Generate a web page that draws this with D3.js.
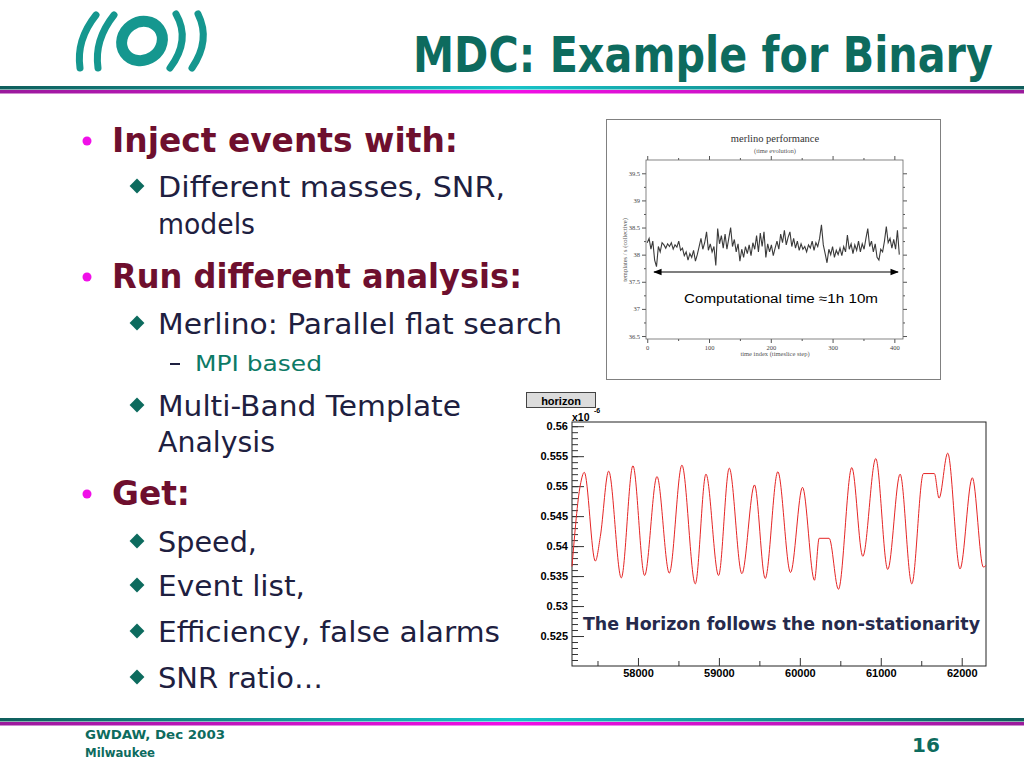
<!DOCTYPE html>
<html>
<head>
<meta charset="utf-8">
<script src="https://cdn.jsdelivr.net/npm/d3@7"></script>
<style>
body { margin: 0; background: #fff; }
</style>
</head>
<body>
<div class="slide"></div>
<script>
// slide text
var title = "MDC: Example for Binary";
var bulletText = [
  "Inject events with:",
  "Different masses, SNR,",
  "models",
  "Run different analysis:",
  "Merlino: Parallel flat search",
  "MPI based",
  "Multi-Band Template",
  "Analysis",
  "Get:",
  "Speed,",
  "Event list,",
  "Efficiency, false alarms",
  "SNR ratio\u2026"
];
var bulletKind = ["h", "s", "c", "h", "s", "d", "s", "c", "h", "s", "s", "s", "s"];
var footerLeft = ["GWDAW, Dec 2003", "Milwaukee"];
var pageNumber = "16";

// merlino performance (templates / s vs time index)
var merlinoStep = 3;
var merlinoValues = [
  38.22, 38.30, 38.10, 38.25, 37.90, 37.78, 38.15, 38.05, 38.22, 38.18,
  38.12, 38.20, 38.15, 38.22, 38.10, 38.18, 38.14, 38.25, 38.08, 38.12,
  37.98, 38.05, 37.90, 38.02, 37.95, 38.08, 37.88, 38.00, 38.15, 38.30,
  38.10, 38.22, 38.42, 38.08, 38.20, 38.05, 38.15, 37.80, 38.48, 38.20,
  38.35, 38.12, 38.38, 38.10, 38.30, 38.50, 38.15, 38.28, 38.05, 38.20,
  37.88, 38.10, 37.95, 38.15, 38.02, 38.18, 37.98, 38.22, 38.10, 38.35,
  38.05, 38.40, 38.15, 38.42, 37.95, 38.20, 38.05, 38.18, 37.98, 38.12,
  38.25, 38.10, 38.38, 38.22, 38.45, 38.18, 38.32, 38.42, 38.15, 38.30,
  38.12, 38.25, 38.08, 38.20, 38.10, 38.15, 38.05, 38.18, 38.12, 38.25,
  38.08, 38.22, 38.15, 38.30, 38.55, 38.18, 38.02, 37.85, 38.10, 38.00,
  38.15, 37.95, 38.08, 38.00, 38.12, 37.98, 38.15, 38.05, 38.36, 38.10,
  38.20, 38.02, 38.18, 38.08, 38.25, 38.05, 38.20, 38.10, 38.30, 38.48,
  38.15, 38.25, 38.05, 38.20, 37.95, 37.90, 38.10, 38.05, 38.25, 38.52,
  38.22, 38.30, 38.12, 38.28, 38.10, 38.45, 38.00
];
var merlinoTicksY = [36.5, 37, 37.5, 38, 38.5, 39, 39.5];
var merlinoTicksX = [0, 100, 200, 300, 400];
var arrowSpan = [11, 406];
var arrowLevel = 37.68;

// horizon (x10^-6) vs time
var horizonX = [
  57185, 57288, 57337, 57473, 57535, 57638, 57794, 57938, 58082, 58235,
  58387, 58543, 58708, 58840, 58996, 59128, 59284, 59440, 59572, 59728,
  59885, 60033, 60181, 60239, 60362, 60477, 60642, 60778, 60938, 61086,
  61239, 61383, 61527, 61662, 61720, 61827, 61979, 62131, 62267, 62300
];
var horizonY = [
  0.5366, 0.5502, 0.5523, 0.5375, 0.5416, 0.5525, 0.5347, 0.5534, 0.5351, 0.5516,
  0.5355, 0.5535, 0.5337, 0.5520, 0.5351, 0.5530, 0.5354, 0.5502, 0.5346, 0.5524,
  0.5356, 0.5498, 0.5343, 0.5413, 0.5413, 0.5328, 0.5531, 0.5383, 0.5546, 0.5361,
  0.5520, 0.5337, 0.5521, 0.5521, 0.5480, 0.5555, 0.5362, 0.5514, 0.5365, 0.5368
];
var horizonTicksY = [0.525, 0.53, 0.535, 0.54, 0.545, 0.55, 0.555, 0.56];
var horizonTicksX = [58000, 59000, 60000, 61000, 62000];

var slideFont = "'DejaVu Sans', 'Noto Sans', sans-serif";
var teal = "#0d6b5e";

var svg = d3.select(".slide")
  .append("svg")
  .attr("width", 1024)
  .attr("height", 768);

svg.append("rect").attr("width", 1024).attr("height", 768).attr("fill", "#fff");

var defs = svg.append("defs");
function barGradient(id, edge, mid) {
  var g = defs.append("linearGradient").attr("id", id).attr("x1", "0%").attr("x2", "100%");
  g.append("stop").attr("offset", "0%").attr("stop-color", edge);
  g.append("stop").attr("offset", "50%").attr("stop-color", mid);
  g.append("stop").attr("offset", "100%").attr("stop-color", edge);
}
barGradient("tealBar", "#0f5e5c", "#17c3c8");
barGradient("pinkBar", "#9a1a9c", "#f20ee6");

var arrowHead = defs.append("marker")
  .attr("id", "arrowHead")
  .attr("viewBox", "0 0 10 10")
  .attr("refX", 9).attr("refY", 5)
  .attr("markerWidth", 7).attr("markerHeight", 7)
  .attr("orient", "auto-start-reverse");
arrowHead.append("path").attr("d", "M0,1 L10,5 L0,9 Z").attr("fill", "#000");

// squeeze a text horizontally so it spans `width` px from (x, y)
function fitText(sel, x, y, width) {
  var w = sel.node().getComputedTextLength();
  sel.attr("x", 0).attr("y", 0)
    .attr("transform", "translate(" + x + "," + y + ") scale(" + (width / w) + ",1)");
}

// ---- logo
var logo = svg.append("g")
  .attr("fill", "none")
  .attr("stroke", "#15978f")
  .attr("stroke-linecap", "round");
logo.append("path").attr("d", "M96,15 Q76,40 80,68").attr("stroke-width", 7);
logo.append("path").attr("d", "M114,15 Q94,40 98,68").attr("stroke-width", 7);
logo.append("ellipse")
  .attr("cx", 142).attr("cy", 41).attr("rx", 21).attr("ry", 19)
  .attr("transform", "rotate(-35,142,41)")
  .attr("stroke-width", 11);
logo.append("path").attr("d", "M176,14 Q191,40 170,68").attr("stroke-width", 7);
logo.append("path").attr("d", "M198,14 Q211,40 192,68").attr("stroke-width", 7);

// ---- title and bars
var titleText = svg.append("text")
  .attr("font-family", slideFont)
  .attr("font-weight", "bold")
  .attr("font-size", 50)
  .attr("fill", teal)
  .text(title);
fitText(titleText, 413, 72, 580);

[[86, 718], [90, 722]].forEach(function (pair, i) {
  pair.forEach(function (y) {
    svg.append("rect")
      .attr("x", 0).attr("y", y).attr("width", 1024).attr("height", 3.5)
      .attr("fill", i === 0 ? "url(#tealBar)" : "url(#pinkBar)");
  });
});

// ---- bullets
var bulletBase = [152, 197, 234, 288, 334, 371, 416, 452, 505, 552, 596, 642, 688];
var bulletWidth = [346, 347, 97, 410, 404, 127, 303, 117, 78, 99, 147, 342, 165];

var bullets = svg.append("g").selectAll("g")
  .data(bulletText)
  .join("g");

bullets.append("text")
  .attr("x", function (d, i) {
    var k = bulletKind[i];
    return k === "h" ? 112 : (k === "d" ? 195 : 158);
  })
  .attr("y", function (d, i) { return bulletBase[i]; })
  .attr("font-family", slideFont)
  .attr("font-weight", function (d, i) { return bulletKind[i] === "h" ? "bold" : "normal"; })
  .attr("font-size", function (d, i) {
    var k = bulletKind[i];
    return k === "h" ? 33 : (k === "d" ? 22 : 28);
  })
  .attr("fill", function (d, i) {
    var k = bulletKind[i];
    return k === "h" ? "#6e0f2e" : (k === "d" ? "#0d7a66" : "#1e2040");
  })
  .attr("textLength", function (d, i) { return bulletWidth[i]; })
  .attr("lengthAdjust", "spacingAndGlyphs")
  .text(function (d) { return d; });

bullets.each(function (d, i) {
  var g = d3.select(this);
  var k = bulletKind[i];
  var y = bulletBase[i];
  if (k === "h") {
    g.append("circle").attr("cx", 87).attr("cy", y - 11).attr("r", 4.5).attr("fill", "#f010e8");
  } else if (k === "s") {
    g.append("path")
      .attr("d", d3.symbol(d3.symbolDiamond2, 140)())
      .attr("transform", "translate(137," + (y - 11) + ")")
      .attr("fill", "#0d6b5e");
  } else if (k === "d") {
    g.append("rect").attr("x", 170).attr("y", y - 8).attr("width", 10).attr("height", 2).attr("fill", "#1e2040");
  }
});

// ---- footer
footerLeft.forEach(function (t, i) {
  svg.append("text")
    .attr("x", 85).attr("y", 739 + i * 18)
    .attr("font-family", slideFont)
    .attr("font-weight", "bold")
    .attr("font-size", 12)
    .attr("fill", teal)
    .attr("textLength", i === 0 ? 140 : 70)
    .attr("lengthAdjust", "spacingAndGlyphs")
    .text(t);
});
svg.append("text")
  .attr("x", 926).attr("y", 752)
  .attr("text-anchor", "middle")
  .attr("font-family", slideFont)
  .attr("font-weight", "bold")
  .attr("font-size", 20)
  .attr("fill", teal)
  .text(pageNumber);

// ---- merlino performance plot
var serif = "'Liberation Serif', 'DejaVu Serif', serif";
svg.append("rect")
  .attr("x", 606.5).attr("y", 119.5).attr("width", 334).attr("height", 260)
  .attr("fill", "#fff").attr("stroke", "#808080");

var mx = d3.scaleLinear().domain([-2, 414]).range([646, 903]);
var my = d3.scaleLinear().domain([36.445, 39.745]).range([339, 160]);

var mPlot = svg.append("g").attr("color", "#555");

mPlot.append("g").attr("transform", "translate(646,0)")
  .call(d3.axisLeft(my).tickValues(merlinoTicksY).tickSize(4).tickPadding(2).tickFormat(d3.format("~g")));
mPlot.append("g").attr("transform", "translate(646,0)")
  .call(d3.axisLeft(my).tickValues(d3.range(36.75, 39.7, 0.5)).tickSize(2).tickFormat(""));
mPlot.append("g").attr("transform", "translate(903,0)")
  .call(d3.axisRight(my).tickValues(merlinoTicksY).tickSize(4).tickFormat(""));
mPlot.append("g").attr("transform", "translate(903,0)")
  .call(d3.axisRight(my).tickValues(d3.range(36.75, 39.7, 0.5)).tickSize(2).tickFormat(""));
mPlot.append("g").attr("transform", "translate(0,339)")
  .call(d3.axisBottom(mx).tickValues(merlinoTicksX).tickSize(4).tickPadding(2).tickFormat(d3.format("d")));
mPlot.append("g").attr("transform", "translate(0,339)")
  .call(d3.axisBottom(mx).tickValues([50, 150, 250, 350]).tickSize(2).tickFormat(""));
mPlot.append("g").attr("transform", "translate(0,160)")
  .call(d3.axisTop(mx).tickValues(merlinoTicksX).tickSize(4).tickFormat(""));
mPlot.append("g").attr("transform", "translate(0,160)")
  .call(d3.axisTop(mx).tickValues([50, 150, 250, 350]).tickSize(2).tickFormat(""));
mPlot.selectAll("text").attr("font-family", serif).attr("font-size", 6.5).attr("fill", "#444");
mPlot.selectAll(".domain").remove();
mPlot.append("rect")
  .attr("x", 646).attr("y", 160).attr("width", 257).attr("height", 179)
  .attr("fill", "none").attr("stroke", "#666").attr("stroke-width", 0.8);

var merlinoLine = d3.line()
  .x(function (d, i) { return mx(i * merlinoStep); })
  .y(function (d) { return my(d); });
mPlot.append("path")
  .datum(merlinoValues)
  .attr("d", merlinoLine)
  .attr("fill", "none")
  .attr("stroke", "#3a3a3a")
  .attr("stroke-width", 1.1);

mPlot.append("text")
  .attr("x", 775).attr("y", 142).attr("text-anchor", "middle")
  .attr("font-family", serif).attr("font-size", 10.5).attr("fill", "#333")
  .text("merlino performance");
mPlot.append("text")
  .attr("x", 775).attr("y", 153).attr("text-anchor", "middle")
  .attr("font-family", serif).attr("font-size", 6.5).attr("fill", "#555")
  .text("(time evolution)");
mPlot.append("text")
  .attr("x", 775).attr("y", 356).attr("text-anchor", "middle")
  .attr("font-family", serif).attr("font-size", 6.5).attr("fill", "#555")
  .text("time index (timeslice step)");
mPlot.append("text")
  .attr("transform", "translate(627,250) rotate(-90)")
  .attr("text-anchor", "middle")
  .attr("font-family", serif).attr("font-size", 6.5).attr("fill", "#555")
  .text("templates / s  (collective)");

mPlot.append("line")
  .attr("x1", mx(arrowSpan[0])).attr("x2", mx(arrowSpan[1]))
  .attr("y1", my(arrowLevel)).attr("y2", my(arrowLevel))
  .attr("stroke", "#000").attr("stroke-width", 1.2)
  .attr("marker-start", "url(#arrowHead)")
  .attr("marker-end", "url(#arrowHead)");
mPlot.append("text")
  .attr("x", 684).attr("y", 303)
  .attr("font-family", "'Liberation Sans', Arial, sans-serif")
  .attr("font-size", 12.5).attr("fill", "#000")
  .attr("textLength", 194).attr("lengthAdjust", "spacingAndGlyphs")
  .text("Computational time \u22481h 10m");

// ---- horizon plot
var sansBold = "'Liberation Sans', Arial, sans-serif";
var hx = d3.scaleLinear().domain([57185, 62300]).range([572, 986]);
var hy = d3.scaleLinear().domain([0.52, 0.5607]).range([666, 422]);

var hPlot = svg.append("g").attr("color", "#000");

hPlot.append("rect")
  .attr("x", 526.5).attr("y", 392.5).attr("width", 69).attr("height", 15)
  .attr("fill", "#dcdcdc").attr("stroke", "#444");
hPlot.append("text")
  .attr("x", 561).attr("y", 404.5).attr("text-anchor", "middle")
  .attr("font-family", sansBold).attr("font-weight", "bold").attr("font-size", 11)
  .text("horizon");

hPlot.append("rect")
  .attr("x", 572).attr("y", 422).attr("width", 414).attr("height", 244)
  .attr("fill", "#fff").attr("stroke", "#222").attr("stroke-width", 1);

hPlot.append("g").attr("transform", "translate(572,0)")
  .call(d3.axisLeft(hy).tickValues(horizonTicksY).tickSize(-12).tickPadding(4).tickFormat(d3.format(".3~f")));
hPlot.append("g").attr("transform", "translate(572,0)")
  .call(d3.axisLeft(hy).tickValues(d3.range(0.521, 0.5605, 0.001)).tickSize(-6).tickFormat(""));
hPlot.append("g").attr("transform", "translate(0,666)")
  .call(d3.axisBottom(hx).tickValues(horizonTicksX).tickSize(-8).tickPadding(3).tickFormat(d3.format("d")));
hPlot.append("g").attr("transform", "translate(0,666)")
  .call(d3.axisBottom(hx).tickValues([57500, 58500, 59500, 60500, 61500]).tickSize(-5).tickFormat(""));
hPlot.selectAll(".domain").remove();
hPlot.selectAll(".tick line").attr("stroke", "#333");
hPlot.selectAll(".tick text")
  .attr("font-family", sansBold).attr("font-weight", "bold").attr("font-size", 11).attr("fill", "#000");

hPlot.append("text")
  .attr("x", 572).attr("y", 421)
  .attr("font-family", sansBold).attr("font-weight", "bold").attr("font-size", 10.5)
  .text("x10");
hPlot.append("text")
  .attr("x", 594).attr("y", 413)
  .attr("font-family", sansBold).attr("font-weight", "bold").attr("font-size", 7)
  .text("-6");

var horizonLine = d3.line()
  .x(function (d, i) { return hx(horizonX[i]); })
  .y(function (d) { return hy(d); })
  .curve(d3.curveMonotoneX);
hPlot.append("path")
  .datum(horizonY)
  .attr("d", horizonLine)
  .attr("fill", "none")
  .attr("stroke", "#e52525")
  .attr("stroke-width", 1);

hPlot.append("text")
  .attr("x", 583).attr("y", 630)
  .attr("font-family", slideFont).attr("font-weight", "bold").attr("font-size", 17)
  .attr("fill", "#262a4c")
  .attr("textLength", 397).attr("lengthAdjust", "spacingAndGlyphs")
  .text("The Horizon follows the non-stationarity");
</script>
</body>
</html>
